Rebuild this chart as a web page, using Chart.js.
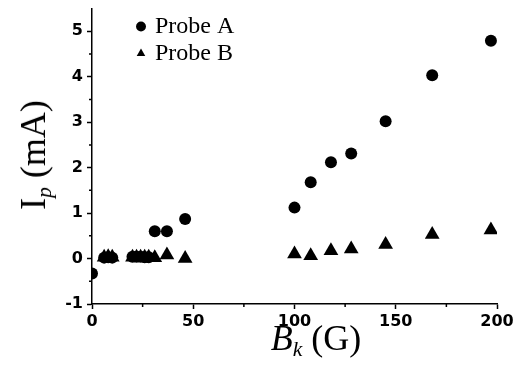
<!DOCTYPE html>
<html>
<head>
<meta charset="utf-8">
<script src="https://cdn.jsdelivr.net/npm/chart.js@4.4.1/dist/chart.umd.min.js"></script>
<style>
  body { margin: 0; background: #fff; }
  #box { position: relative; width: 521px; height: 383px; }
  .titulo {
    position: absolute;
    font-family: 'Liberation Serif', 'Times New Roman', serif;
    font-size: 36px;
    color: #000;
    white-space: nowrap;
    line-height: 1;
  }
  .titulo sub { font-size: 0.6em; font-style: italic; vertical-align: baseline; position: relative; top: 0.3em; }
  #tituloY { left: 33px; top: 155px; transform: translate(-50%, -50%) rotate(-90deg); }
  #tituloX { left: 316px; top: 338px; transform: translate(-50%, -50%); }
</style>
</head>
<body>
<div id="box">
  <canvas id="grafico" width="521" height="383"></canvas>
  <div class="titulo" id="tituloY">I<sub>p</sub> (mA)</div>
  <div class="titulo" id="tituloX"><i>B</i><sub>k</sub> (G)</div>
</div>
<script>
// dados
const probeA_x = [0, 6, 8, 10, 20, 22, 24, 26, 28, 31, 37, 46, 100, 108, 118, 128, 145, 168, 197];
const probeA_y = [-0.33, 0.02, 0.03, 0.02, 0.04, 0.04, 0.04, 0.03, 0.03, 0.6, 0.6, 0.87, 1.12, 1.68, 2.12, 2.31, 3.02, 4.03, 4.79];

const probeB_x = [6, 8, 10, 20, 22, 24, 26, 28, 31, 37, 46, 100, 108, 118, 128, 145, 168, 197];
const probeB_y = [0.03, 0.04, 0.03, 0.03, 0.03, 0.03, 0.03, 0.03, 0.02, 0.08, 0.0, 0.1, 0.06, 0.17, 0.21, 0.31, 0.53, 0.63];

// ticks menores
const xMinor = [25, 75, 125, 175];
const yMinor = [-0.5, 0.5, 1.5, 2.5, 3.5, 4.5];

const pontos = (xs, ys) => xs.map((x, i) => ({ x: x, y: ys[i] }));

const tickFont = { family: "'DejaVu Sans', Arial, sans-serif", size: 16, weight: 'bold' };

// ticks menores desenhados a mao
const minorTicks = {
    id: 'minorTicks',
    afterDraw(chart) {
        const ctx = chart.ctx;
        const sx = chart.scales.x;
        const sy = chart.scales.y;
        ctx.save();
        ctx.strokeStyle = '#000';
        ctx.lineWidth = 1.5;
        ctx.beginPath();
        xMinor.forEach(v => {
            const px = sx.getPixelForValue(v);
            ctx.moveTo(px, sx.top);
            ctx.lineTo(px, sx.top + 3);
        });
        yMinor.forEach(v => {
            const py = sy.getPixelForValue(v);
            ctx.moveTo(sy.right, py);
            ctx.lineTo(sy.right - 3, py);
        });
        ctx.stroke();
        ctx.restore();
    }
};

// legenda dentro da area do grafico
const moveLegend = {
    id: 'moveLegend',
    afterLayout(chart) {
        const area = chart.chartArea;
        chart.legend.left = area.left + 44;
        chart.legend.top = area.top + 3;
    }
};

const dadosSonda = {
    datasets: [{
        label: 'Probe A',
        data: pontos(probeA_x, probeA_y),
        pointStyle: 'circle',
        pointRadius: 6,
        backgroundColor: '#000',
        borderColor: '#000',
        borderWidth: 0,
        clip: 0
    }, {
        label: 'Probe B',
        data: pontos(probeB_x, probeB_y),
        pointStyle: 'triangle',
        pointRadius: 8.5,
        backgroundColor: '#000',
        borderColor: '#000',
        borderWidth: 0,
        clip: 0
    }]
};

const configSonda = {
    type: 'scatter',
    data: dadosSonda,
    options: {
        responsive: false,
        animation: false,
        devicePixelRatio: 1,
        layout: {
            padding: { top: 5, right: 24, left: 0, bottom: 0 }
        },
        scales: {
            x: {
                type: 'linear',
                min: 0,
                max: 200,
                afterFit: (s) => { s.height = 79; s.paddingLeft = 0; s.paddingRight = 0; },
                ticks: {
                    stepSize: 50,
                    color: '#000',
                    font: tickFont,
                    padding: 3,
                    maxRotation: 0
                },
                grid: {
                    drawOnChartArea: false,
                    drawTicks: true,
                    tickLength: 5,
                    tickColor: '#000',
                    tickWidth: 1.5
                },
                border: { display: true, color: '#000', width: 1.5 }
            },
            y: {
                type: 'linear',
                min: -1,
                max: 5.5,
                afterFit: (s) => { s.width = 92; s.paddingTop = 0; s.paddingBottom = 0; },
                ticks: {
                    stepSize: 1,
                    includeBounds: false,
                    color: '#000',
                    font: tickFont,
                    padding: 4
                },
                grid: {
                    drawOnChartArea: false,
                    drawTicks: true,
                    tickLength: 5,
                    tickColor: '#000',
                    tickWidth: 1.5
                },
                border: { display: true, color: '#000', width: 1.5 }
            }
        },
        plugins: {
            legend: {
                display: true,
                position: 'chartArea',
                align: 'start',
                labels: {
                    usePointStyle: true,
                    boxWidth: 4,
                    boxHeight: 7,
                    padding: 3,
                    color: '#000',
                    font: {
                        size: 24,
                        family: "'Liberation Serif', 'Times New Roman', serif"
                    }
                }
            },
            tooltip: { enabled: false },
            title: { display: false }
        }
    },
    plugins: [minorTicks, moveLegend]
};

new Chart(document.getElementById('grafico').getContext('2d'), configSonda);
</script>
</body>
</html>
